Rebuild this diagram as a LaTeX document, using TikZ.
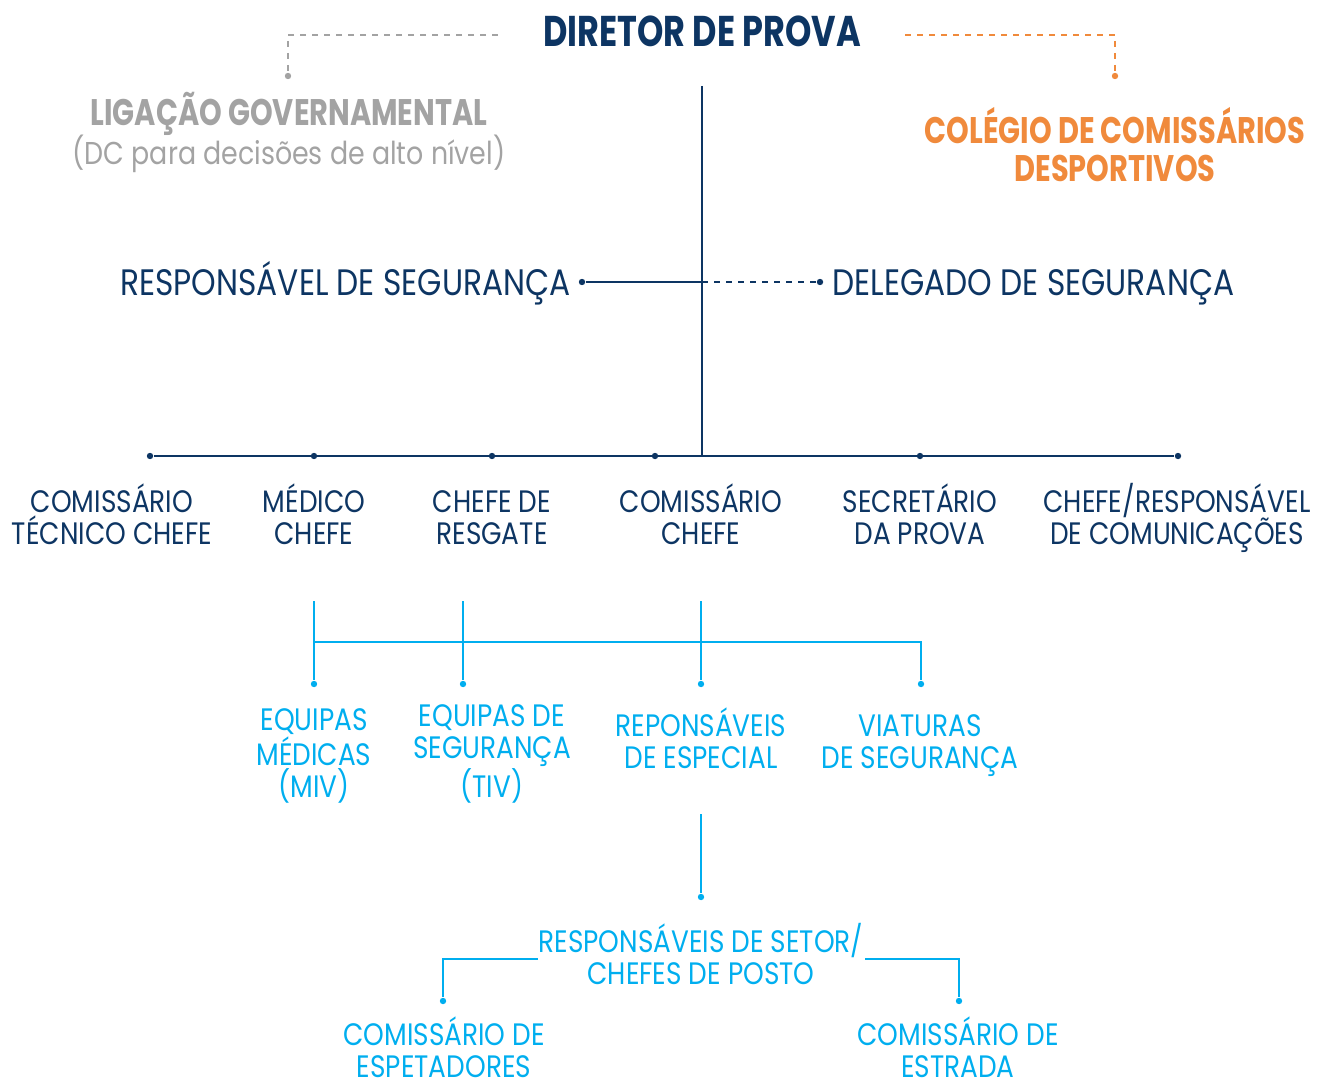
\documentclass[tikz,border=0pt]{standalone}
\usepackage{fontspec}
\setmainfont{Poppins}[FakeStretch=0.85]
\newfontfamily\negrito{Poppins}[FakeStretch=0.78]
\definecolor{navy}{HTML}{0D3563}
\definecolor{ciano}{HTML}{00AEEF}
\definecolor{cinza}{HTML}{A3A3A3}
\definecolor{laranja}{HTML}{F08A3C}
\begin{document}
\begin{tikzpicture}[x=0.5pt,y=-0.5pt,
  chefe/.style={navy,font=\fontsize{15.5}{16}\selectfont,align=center,inner sep=0pt,anchor=base},
  equipa/.style={ciano,font=\fontsize{15.5}{16}\selectfont,align=center,inner sep=0pt,anchor=base},
  ponto/.style={circle,fill,inner sep=0pt,minimum size=3.2pt}]
\useasboundingbox (0,0) rectangle (1317,1086);
% Topo: diretor e ligações (base = última linha do nó)
\node[navy,font=\fontsize{21.5}{24}\selectfont\negrito\bfseries,inner sep=0pt,anchor=base] (diretor) at (702,47) {DIRETOR DE PROVA};
\node[cinza,font=\fontsize{18.5}{19.5}\selectfont\negrito\bfseries,inner sep=0pt,anchor=base] (ligacao) at (289,126) {LIGAÇÃO GOVERNAMENTAL};
\node[cinza,font=\fontsize{15.8}{19.5}\selectfont,inner sep=0pt,anchor=base] (dc) at (289,164) {(DC para decisões de alto nível)};
\node[laranja,font=\fontsize{18.5}{19}\selectfont\negrito\bfseries,align=center,inner sep=0pt,anchor=base] (colegio) at (1115,181)
  {COLÉGIO DE COMISSÁRIOS\\DESPORTIVOS};
\node[ponto,cinza] (pl) at (288,76) {};
\node[ponto,laranja] (pr) at (1115,76) {};
\draw[cinza,dashed,line width=0.6pt] (498,35) -| (pl);
\draw[laranja,dashed,line width=0.6pt] (905,35) -| (pr);
% Segurança
\node[chefe,font=\fontsize{18.4}{18}\selectfont,anchor=base east] (resp) at (571,295) {RESPONSÁVEL DE SEGURANÇA};
\node[chefe,font=\fontsize{18.4}{18}\selectfont,anchor=base west] (deleg) at (832,295) {DELEGADO DE SEGURANÇA};
\node[ponto,navy] (ps) at (582,282) {};
\node[ponto,navy] (pd) at (820,282) {};
\coordinate (topo) at (702,86);
\coordinate (meio) at (702,282);
\coordinate (base) at (702,456);
\draw[navy,line width=0.75pt] (topo)--(base);
\draw[navy,line width=0.75pt] (ps)--(meio);
\draw[navy,dashed,line width=0.75pt] (meio)--(pd);
% Nível 2
\foreach \n/\x in {a/150,b/314,c/492,d/655,e/920,f/1178}
  \node[ponto,navy] (p\n) at (\x,456) {};
\draw[navy,line width=0.75pt] (pa)--(pf);
\node[chefe] (tecnico) at (112,544.5) {COMISSÁRIO\\TÉCNICO CHEFE};
\node[chefe] (medico) at (314,544.5) {MÉDICO\\CHEFE};
\node[chefe] (resgate) at (492,544.5) {CHEFE DE\\RESGATE};
\node[chefe] (comissario) at (701,544.5) {COMISSÁRIO\\CHEFE};
\node[chefe] (secretario) at (920,544.5) {SECRETÁRIO\\DA PROVA};
\node[chefe] (comunic) at (1177,544.5) {CHEFE/RESPONSÁVEL\\DE COMUNICAÇÕES};
% Nível 3
\foreach \n/\x in {a/314,b/463,c/701,d/921}
  \node[ponto,ciano] (q\n) at (\x,684) {};
\foreach \n/\x in {a/314,b/463,c/701}
  \draw[ciano,line width=1pt] (\x,601)--(q\n);
\draw[ciano,line width=1pt] (314,642) -| (qd);
\node[equipa] (medicas) at (314,797.5) {EQUIPAS\\MÉDICAS\\(MIV)};
\node[equipa] (segur) at (492,797.5) {EQUIPAS DE\\SEGURANÇA\\(TIV)};
\node[equipa] (especial) at (701,768.5) {REPONSÁVEIS\\DE ESPECIAL};
\node[equipa] (viaturas) at (920,768.5) {VIATURAS\\DE SEGURANÇA};
% Nível 4
\node[ponto,ciano] (qe) at (701,897) {};
\draw[ciano,line width=1pt] (701,814)--(qe);
\node[equipa] (setor) at (701,984.5) {RESPONSÁVEIS DE SETOR/\\CHEFES DE POSTO};
\node[ponto,ciano] (qf) at (443,1001) {};
\node[ponto,ciano] (qg) at (959,1001) {};
\draw[ciano,line width=1pt] (538,959) -| (qf);
\draw[ciano,line width=1pt] (865,959) -| (qg);
\node[equipa] (espet) at (444,1077) {COMISSÁRIO DE\\ESPETADORES};
\node[equipa] (estrada) at (958,1077) {COMISSÁRIO DE\\ESTRADA};
\end{tikzpicture}
\end{document}
